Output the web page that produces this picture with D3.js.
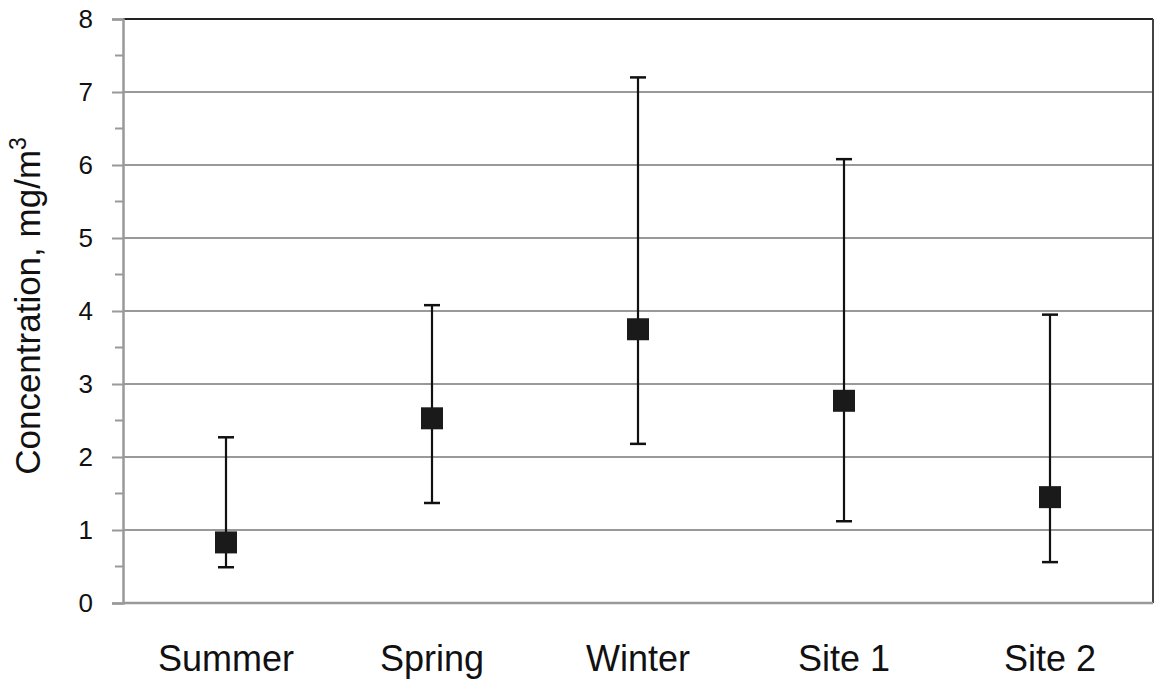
<!DOCTYPE html>
<html><head><meta charset="utf-8">
<script src="https://cdn.jsdelivr.net/npm/d3@7"></script>
<style>body{margin:0;background:#fff;}svg{display:block;font-family:"Liberation Sans",Arial,sans-serif;}</style>
</head><body>
<svg id="c" width="1157" height="684"></svg>
<script>
const categories = ["Summer","Spring","Winter","Site 1","Site 2"];
const means = [0.83, 2.53, 3.75, 2.77, 1.45];
const upper = [2.27, 4.08, 7.2, 6.08, 3.95];
const lower = [0.49, 1.37, 2.18, 1.12, 0.56];
const yTicks = [0,1,2,3,4,5,6,7,8];
const yMinor = [0.5,1.5,2.5,3.5,4.5,5.5,6.5,7.5];

const svg = d3.select("#c");
const L = 123, R = 1153, T = 19, B = 603;
const x = d3.scaleBand().domain(categories).range([L, R]);
const y = d3.scaleLinear().domain([0, 8]).range([B, T]);

// gridlines
svg.append("g").selectAll("line").data(yTicks.filter(d => d > 0 && d < 8)).join("line")
  .attr("x1", L).attr("x2", R).attr("y1", d => y(d)).attr("y2", d => y(d))
  .attr("stroke", "#999").attr("stroke-width", 2);

// top and right border
svg.append("line").attr("x1", L).attr("x2", R).attr("y1", y(8)).attr("y2", y(8)).attr("stroke", "#222").attr("stroke-width", 2);
svg.append("line").attr("x1", R).attr("x2", R).attr("y1", T).attr("y2", B).attr("stroke", "#444").attr("stroke-width", 2);

// y axis
const yAxis = d3.axisLeft(y).tickValues(yTicks).tickSize(11).tickPadding(19).tickFormat(d3.format("d"));
const ga = svg.append("g").attr("transform", `translate(${L},0)`).call(yAxis);
ga.attr("font-family", null);
ga.select(".domain").attr("stroke", "#999").attr("stroke-width", 2.5);
ga.selectAll(".tick line").attr("stroke", "#999").attr("stroke-width", 2);
ga.selectAll(".tick text").attr("font-size", 26).attr("fill", "#111");
svg.append("g").selectAll("line").data(yMinor).join("line")
  .attr("x1", L - 8).attr("x2", L).attr("y1", d => y(d)).attr("y2", d => y(d))
  .attr("stroke", "#999").attr("stroke-width", 2);

// bottom axis line
svg.append("line").attr("x1", L).attr("x2", R).attr("y1", B).attr("y2", B).attr("stroke", "#999").attr("stroke-width", 2.5);

// x labels
const xAxis = d3.axisBottom(x).tickSize(0).tickPadding(42);
const gx = svg.append("g").attr("transform", `translate(0,${B})`).call(xAxis);
gx.attr("font-family", null);
gx.select(".domain").remove();
gx.selectAll(".tick text").attr("font-size", 36).attr("fill", "#111");

// y title
const yt = svg.append("text").attr("transform", `translate(40,${306}) rotate(-90)`)
  .attr("text-anchor", "middle").attr("font-size", 35).attr("fill", "#111");
yt.append("tspan").text("Concentration, mg/m");
yt.append("tspan").text("3").attr("font-size", 23).attr("dy", -14);

// error bars
const g = svg.append("g");
categories.forEach((c, i) => {
  const cx = x(c) + x.bandwidth() / 2;
  g.append("line").attr("x1", cx).attr("x2", cx).attr("y1", y(upper[i])).attr("y2", y(lower[i]))
    .attr("stroke", "#111").attr("stroke-width", 2.2);
  [upper[i], lower[i]].forEach(v => {
    g.append("line").attr("x1", cx - 8).attr("x2", cx + 8).attr("y1", y(v)).attr("y2", y(v))
      .attr("stroke", "#111").attr("stroke-width", 2.5);
  });
  g.append("rect").attr("x", cx - 11).attr("y", y(means[i]) - 11).attr("width", 22).attr("height", 22)
    .attr("fill", "#1a1a1a");
});
</script>
</body></html>
